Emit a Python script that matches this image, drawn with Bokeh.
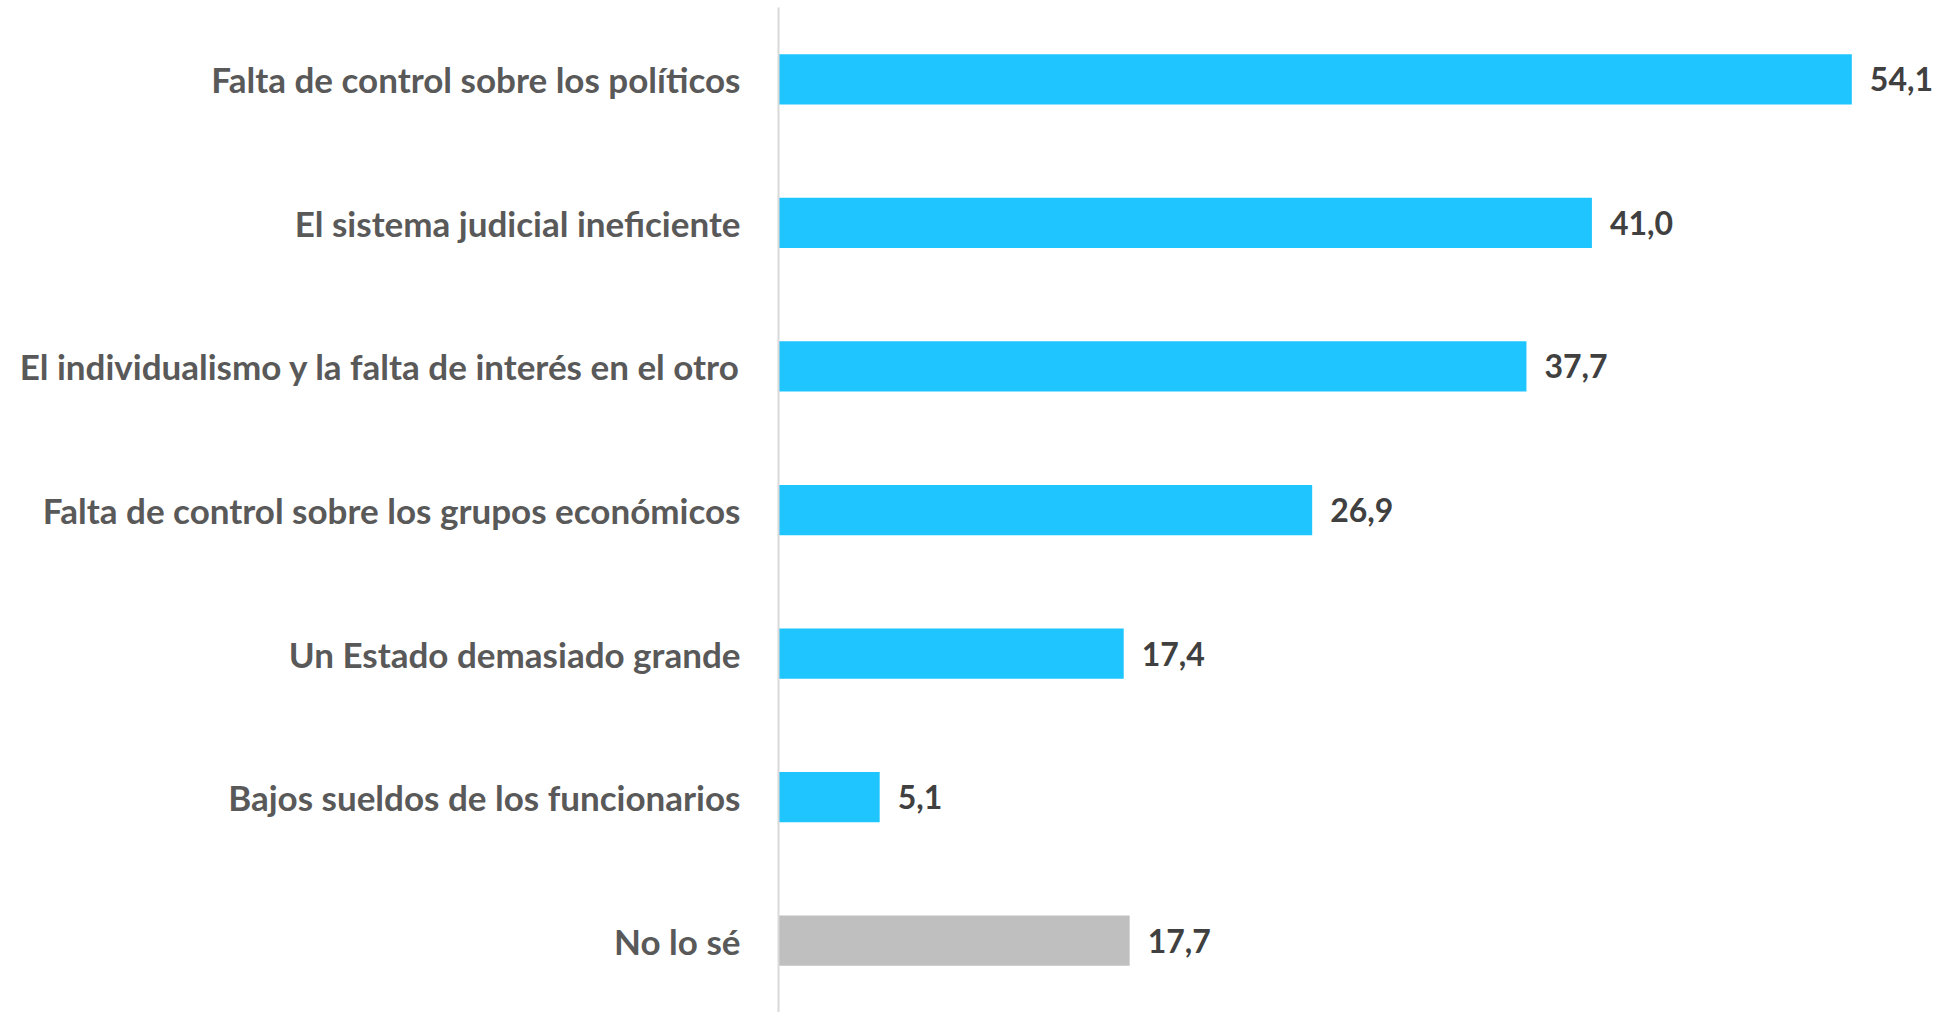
from bokeh.plotting import figure
from bokeh.models import ColumnDataSource, FactorRange, Range1d
from bokeh.embed import file_html
from bokeh.resources import INLINE
from bokeh.core.properties import value

categories = [
    "Falta de control sobre los políticos",
    "El sistema judicial ineficiente",
    "El individualismo y la falta de interés en el otro",
    "Falta de control sobre los grupos económicos",
    "Un Estado demasiado grande",
    "Bajos sueldos de los funcionarios",
    "No lo sé",
]
values = [54.1, 41.0, 37.7, 26.9, 17.4, 5.1, 17.7]
colors = ["#1FC5FF", "#1FC5FF", "#1FC5FF", "#1FC5FF", "#1FC5FF", "#1FC5FF", "#BFBFBF"]
labels = [f"{v:.1f}".replace(".", ",") for v in values]

source = ColumnDataSource(dict(cat=categories, val=values, color=colors, label=labels))

p = figure(
    width=1940, height=1012,
    y_range=FactorRange(factors=list(reversed(categories)), range_padding=0),
    x_range=Range1d(0, 58.57),
    output_backend="svg", toolbar_location=None,
    min_border_left=778, min_border_right=0, min_border_top=7, min_border_bottom=0,
)

p.hbar(y="cat", right="val", left=0, height=0.35, color="color", line_color=None, source=source)
p.text(x="val", y="cat", text="label", source=source, x_offset=18,
       text_baseline="middle", text_align="left",
       text_font=value("Lato"), text_font_style="bold", text_font_size="32px",
       text_color="#404040")

p.xaxis.visible = False
p.xgrid.visible = False
p.ygrid.visible = False
p.outline_line_color = None

ax = p.yaxis[0]
ax.axis_line_color = "#D9D9D9"
ax.axis_line_width = 2
ax.major_tick_line_color = None
ax.minor_tick_line_color = None
ax.major_label_standoff = 32
ax.major_label_text_font = "Lato"
ax.major_label_text_font_style = "bold"
ax.major_label_text_font_size = "35px"
ax.major_label_text_color = "#595959"

open("out.html", "w").write(file_html(p, INLINE))
